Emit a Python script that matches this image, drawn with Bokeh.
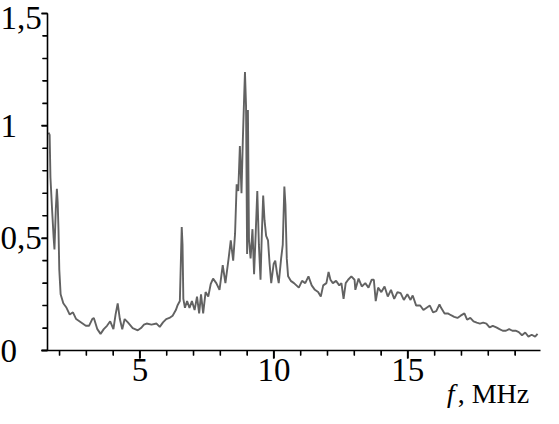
from bokeh.plotting import figure
from bokeh.models import Range1d, Label, SingleIntervalTicker
from bokeh.embed import file_html
from bokeh.resources import INLINE

# frequency (MHz) and amplitude
freq = [1.59, 1.63, 1.66, 1.72, 1.78, 1.81, 1.86, 1.90, 1.93, 1.96, 1.99, 2.04, 2.14, 2.26, 2.38,
        2.50, 2.62, 2.74, 2.86, 2.98, 3.10, 3.22, 3.28, 3.41, 3.53, 3.65, 3.77, 3.89, 4.01, 4.09,
        4.17, 4.25, 4.34, 4.43, 4.55, 4.73, 4.92, 5.04, 5.15, 5.25, 5.43, 5.62, 5.74, 5.86, 5.98,
        6.10, 6.22, 6.34, 6.40, 6.49, 6.56, 6.59, 6.62, 6.68, 6.76, 6.85, 6.94, 7.04, 7.13, 7.21,
        7.28, 7.36, 7.45, 7.55, 7.64, 7.73, 7.85, 7.97, 8.09, 8.19, 8.31, 8.39, 8.48, 8.55, 8.61,
        8.67, 8.73, 8.79, 8.84, 8.89, 8.92, 8.96, 9.00, 9.03, 9.07, 9.13, 9.20, 9.26, 9.32, 9.38,
        9.44, 9.50, 9.55, 9.60, 9.65, 9.71, 9.78, 9.84, 9.90, 9.99, 10.05, 10.12, 10.18, 10.27,
        10.33, 10.39, 10.43, 10.48, 10.53, 10.63, 10.75, 10.93, 11.05, 11.17, 11.29, 11.41, 11.53,
        11.65, 11.75, 11.84, 11.96, 12.04, 12.11, 12.20, 12.32, 12.44, 12.52, 12.60, 12.68, 12.77,
        12.89, 13.01, 13.04, 13.16, 13.28, 13.41, 13.53, 13.65, 13.73, 13.80, 13.89, 14.01, 14.13,
        14.25, 14.37, 14.49, 14.61, 14.73, 14.85, 14.98, 15.10, 15.18, 15.31, 15.46, 15.58, 15.70,
        15.82, 15.94, 16.06, 16.18, 16.24, 16.37, 16.49, 16.61, 16.73, 16.85, 16.97, 17.11, 17.21,
        17.33, 17.45, 17.57, 17.69, 17.81, 17.93, 18.05, 18.17, 18.30, 18.42, 18.54, 18.66, 18.78,
        18.90, 19.02, 19.14, 19.26, 19.38, 19.50, 19.62, 19.75, 19.84]
amp = [0.97, 0.96, 0.77, 0.63, 0.50, 0.45, 0.63, 0.72, 0.66, 0.54, 0.36, 0.25, 0.21, 0.19, 0.16,
       0.17, 0.14, 0.13, 0.12, 0.11, 0.11, 0.14, 0.145, 0.095, 0.074, 0.095, 0.11, 0.13, 0.095, 0.16,
       0.21, 0.14, 0.095, 0.14, 0.125, 0.10, 0.09, 0.10, 0.115, 0.12, 0.115, 0.12, 0.105, 0.125, 0.14,
       0.145, 0.155, 0.18, 0.20, 0.22, 0.55, 0.47, 0.23, 0.19, 0.22, 0.19, 0.22, 0.18, 0.24, 0.165,
       0.25, 0.165, 0.26, 0.24, 0.295, 0.32, 0.30, 0.27, 0.38, 0.30, 0.41, 0.49, 0.40, 0.52, 0.74,
       0.71, 0.91, 0.70, 0.935, 1.13, 1.24, 1.09, 0.43, 1.07, 0.49, 0.41, 0.54, 0.34, 0.52, 0.71,
       0.47, 0.315, 0.52, 0.69, 0.58, 0.51, 0.49, 0.385, 0.30, 0.385, 0.40, 0.34, 0.30, 0.41,
       0.47, 0.73, 0.65, 0.41, 0.33, 0.31, 0.30, 0.28, 0.31, 0.30, 0.33, 0.29, 0.27,
       0.26, 0.24, 0.29, 0.30, 0.35, 0.315, 0.30, 0.31, 0.29, 0.30, 0.23, 0.30, 0.315,
       0.33, 0.315, 0.27, 0.32, 0.285, 0.30, 0.28, 0.315, 0.315, 0.22, 0.28, 0.26, 0.285,
       0.24, 0.27, 0.23, 0.26, 0.255, 0.225, 0.25, 0.225, 0.245, 0.20, 0.20, 0.18, 0.19,
       0.20, 0.17, 0.175, 0.205, 0.19, 0.165, 0.165, 0.157, 0.15, 0.145, 0.155, 0.165, 0.137,
       0.145, 0.13, 0.124, 0.12, 0.124, 0.12, 0.103, 0.11, 0.103, 0.095, 0.088, 0.088, 0.095,
       0.088, 0.088, 0.082, 0.068, 0.08, 0.062, 0.07, 0.062, 0.074]

x_major_ticks = [5, 10, 15]
x_minor_ticks = [2, 3, 4, 6, 7, 8, 9, 11, 12, 13, 14, 16, 17, 18, 19]
y_ticks = [0, 0.5, 1, 1.5]
y_minor_ticks = [0.1, 0.2, 0.3, 0.4, 0.6, 0.7, 0.8, 0.9, 1.1, 1.2, 1.3, 1.4]
y_tick_labels = ["0", "0,5", "1", "1,5"]
x_label_italic = "f"
x_label_rest = ", MHz"

FONT = "Liberation Serif"
FS = "33px"      # tick numbers
FS_AX = "28px"   # axis name

# layout (pixels inside the 543x408 canvas)
W, H = 543, 408
F0, F1 = 1.55, 19.95      # x axis data extent
Y0, Y1 = 0.0, 1.5         # y axis data extent
AX_LEFT, AX_RIGHT = 47, 540
AX_TOP, AX_BOTTOM = 13, 350
sx = (AX_RIGHT - AX_LEFT) / (F1 - F0)
sy = (AX_BOTTOM - AX_TOP) / (Y1 - Y0)
x_range = Range1d(F0 - AX_LEFT / sx, F1 + (W - AX_RIGHT) / sx)
y_range = Range1d(Y0 - (H - AX_BOTTOM) / sy, Y1 + AX_TOP / sy)

p = figure(width=W, height=H, output_backend="svg", toolbar_location=None,
           x_range=x_range, y_range=y_range,
           min_border_left=0, min_border_right=0, min_border_top=0, min_border_bottom=0)
p.outline_line_color = None
p.xgrid.visible = False
p.ygrid.visible = False
p.background_fill_color = "white"
p.border_fill_color = "white"

p.line(freq, amp, line_color="#626262", line_width=1.9)

# tick marks (outward) drawn from the tick value lists
TICK_COLOR = "black"
XT_MAJ, XT_MIN, YT_MAJ, YT_MIN = 8, 5, 6, 5
p.segment(x0=x_major_ticks, x1=x_major_ticks, y0=[Y0] * len(x_major_ticks),
          y1=[Y0 - XT_MAJ / sy] * len(x_major_ticks), line_color=TICK_COLOR, line_width=2)
p.segment(x0=x_minor_ticks, x1=x_minor_ticks, y0=[Y0] * len(x_minor_ticks),
          y1=[Y0 - XT_MIN / sy] * len(x_minor_ticks), line_color=TICK_COLOR, line_width=1.6)
p.segment(x0=[F0] * len(y_ticks), x1=[F0 - YT_MAJ / sx] * len(y_ticks), y0=y_ticks,
          y1=y_ticks, line_color=TICK_COLOR, line_width=2)
p.segment(x0=[F0] * len(y_minor_ticks), x1=[F0 - YT_MIN / sx] * len(y_minor_ticks),
          y0=y_minor_ticks, y1=y_minor_ticks, line_color=TICK_COLOR, line_width=1.6)

xa = p.xaxis[0]
xa.fixed_location = Y0
xa.bounds = (F0 - 6 / sx, F1)
xa.ticker = SingleIntervalTicker(interval=5, num_minor_ticks=5)
xa.axis_line_color = "black"
xa.axis_line_width = 1.6
xa.major_tick_in = 0
xa.minor_tick_in = 0
xa.major_tick_out = XT_MAJ
xa.minor_tick_out = XT_MIN
xa.major_tick_line_color = "black"
xa.minor_tick_line_color = "black"
xa.major_label_standoff = 0
xa.major_label_text_font = FONT
xa.major_label_text_font_size = FS
xa.major_label_text_color = "black"

ya = p.yaxis[0]
ya.fixed_location = F0
ya.bounds = (Y0, Y1)
ya.ticker = SingleIntervalTicker(interval=0.5, num_minor_ticks=5)
ya.axis_line_color = "black"
ya.axis_line_width = 1.6
ya.major_tick_in = 0
ya.minor_tick_in = 0
ya.major_tick_out = YT_MAJ
ya.minor_tick_out = YT_MIN
ya.major_tick_line_color = "black"
ya.minor_tick_line_color = "black"
ya.major_label_overrides = {t: "" for t in y_ticks}
ya.major_label_text_font_size = "0px"

for t, lab in zip(y_ticks, y_tick_labels):
    off = -4 if t == Y1 else 0
    p.add_layout(Label(x=0, y=t, x_units="screen", y_units="data", y_offset=off,
                       text=lab, text_font=FONT, text_font_size=FS,
                       text_align="left", text_baseline="middle", text_color="black"))

lab_y = Y0 - 43 / sy
lab_x = 16.45
p.add_layout(Label(x=lab_x, y=lab_y, x_units="data", y_units="data",
                   text=x_label_italic, text_font=FONT, text_font_size=FS_AX,
                   text_font_style="italic", text_align="left",
                   text_baseline="alphabetic", text_color="black"))
p.add_layout(Label(x=lab_x, y=lab_y, x_units="data", y_units="data", x_offset=11,
                   text=x_label_rest, text_font=FONT, text_font_size=FS_AX,
                   text_align="left", text_baseline="alphabetic", text_color="black"))

open("out.html", "w").write(file_html(p, INLINE))
